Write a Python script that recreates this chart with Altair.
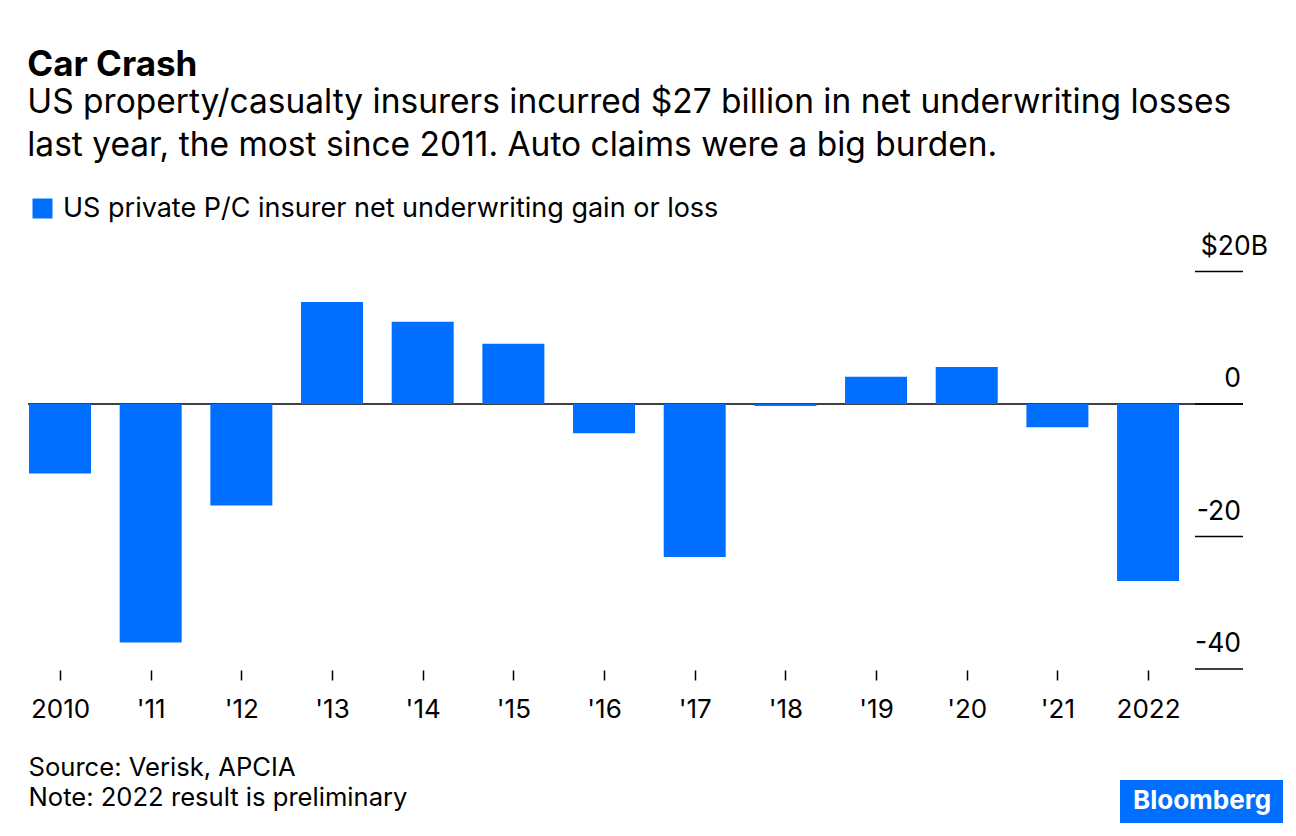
import altair as alt
import pandas as pd

# ---- data ----
years = list(range(2010, 2023))
values = [-10.5, -36.0, -15.3, 15.4, 12.4, 9.1, -4.4, -23.1, -0.3, 4.1, 5.6, -3.5, -26.7]
series_name = "US private P/C insurer net underwriting gain or loss"
y_tick_values = [20, 0, -20, -40]
y_tick_labels = ["$20B", "0", "-20", "-40"]
title_text = "Car Crash"
subtitle_lines = [
    "US property/casualty insurers incurred $27 billion in net underwriting losses",
    "last year, the most since 2011. Auto claims were a big burden.",
]
source_lines = ["Source: Verisk, APCIA", "Note: 2022 result is preliminary"]

BLUE = "#006eff"
FONT = "Inter"

bars_df = pd.DataFrame({"year": years, "value": values, "series": [series_name] * len(years)})
yt_df = pd.DataFrame({"value": y_tick_values, "label": y_tick_labels})

x_scale = alt.Scale(domain=[2009.647, 2023.047], nice=False, zero=False, padding=0)
y_scale = alt.Scale(domain=[-40.15, 26.57], nice=False, zero=False)

label_expr = ("datum.value == 2010 || datum.value == 2022 ? format(datum.value, 'd') : "
              "\"'\" + substring(format(datum.value, 'd'), 2, 4)")

x_axis = alt.Axis(
    values=years, labelExpr=label_expr, grid=False, domain=False,
    ticks=True, tickSize=10, tickColor="#000000", tickWidth=1.5,
    labelFontSize=26, labelFont=FONT, labelColor="#000000", labelPadding=16,
    title=source_lines, titleFont=FONT, titleFontSize=25.6, titleFontWeight="normal",
    titleColor="#000000", titleAlign="left", titleAnchor="start", titleBaseline="alphabetic",
    titleX=0, titleY=105, titleLineHeight=30,
)

zero_rule = alt.Chart(alt.Data(values=[{"z": 0}])).mark_rule(
    color="#000000", strokeWidth=1.5
).encode(y=alt.Y("z:Q", scale=y_scale, axis=None))

tick_rules = alt.Chart(yt_df).mark_rule(color="#000000", strokeWidth=1.5).encode(
    y=alt.Y("value:Q", scale=y_scale, axis=None),
    x=alt.value(1167), x2=alt.value(1215),
)

bars = alt.Chart(bars_df).mark_bar(size=62).encode(
    x=alt.X("year:Q", scale=x_scale, axis=x_axis),
    y=alt.Y("value:Q", scale=y_scale, axis=None),
    color=alt.Color(
        "series:N",
        scale=alt.Scale(domain=[series_name], range=[BLUE]),
        legend=alt.Legend(
            title=None, orient="none", legendX=1, legendY=-33, padding=0,
            symbolType="square", symbolSize=400, symbolStrokeWidth=0,
            labelFont=FONT, labelFontSize=27, labelColor="#000000", labelOffset=7,
            labelLimit=1000,
        ),
    ),
)

y_labels_top = alt.Chart(yt_df).transform_filter("datum.value == 20").mark_text(
    align="right", baseline="alphabetic", dy=-17, font=FONT, fontSize=26.5, color="#000000"
).encode(
    y=alt.Y("value:Q", scale=y_scale, axis=None),
    x=alt.value(1240),
    text="label:N",
)
y_labels_rest = alt.Chart(yt_df).transform_filter("datum.value != 20").mark_text(
    align="right", baseline="alphabetic", dy=-17, font=FONT, fontSize=26.5, color="#000000"
).encode(
    y=alt.Y("value:Q", scale=y_scale, axis=None),
    x=alt.value(1213),
    text="label:N",
)

logo_rect = alt.Chart(alt.Data(values=[{"t": "Bloomberg"}])).mark_rect(color=BLUE).encode(
    x=alt.value(1092), x2=alt.value(1255), y=alt.value(552), y2=alt.value(595)
)
logo_text = alt.Chart(alt.Data(values=[{"t": "Bloomberg"}])).mark_text(
    align="center", baseline="middle", font=FONT, fontSize=26, fontWeight="bold", color="#ffffff"
).encode(x=alt.value(1174), y=alt.value(573), text="t:N")

chart = alt.layer(
    zero_rule, tick_rules, bars, y_labels_top, y_labels_rest, logo_rect, logo_text
).properties(
    width=1215,
    height=442,
    padding={"left": 20, "top": 220, "right": 45, "bottom": 158},
    autosize=alt.AutoSizeParams(type="none"),
    title=alt.TitleParams(
        text=title_text, subtitle=subtitle_lines, anchor="start",
        font=FONT, fontSize=35, fontWeight="bold", color="#000000",
        subtitleFont=FONT, subtitleFontSize=33.5, subtitleColor="#000000",
        subtitleLineHeight=43, subtitlePadding=4, offset=33,
    ),
).configure(
    font=FONT, view=alt.ViewConfig(stroke="transparent", strokeWidth=0)
)

chart.save("out.html", embed_options={"renderer": "svg", "actions": False})
